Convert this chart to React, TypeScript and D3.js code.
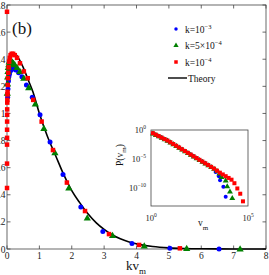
import * as d3 from "d3";

// main panel: P(kv_m) vs kv_m, three k values + theory
const blueMain: [number, number][] = [
  [0.02, 1.12], [0.03, 1.18], [0.045, 1.24], [0.057, 1.27], [0.074, 1.29],
  [0.096, 1.31], [0.125, 1.32], [0.16, 1.33], [0.21, 1.33], [0.27, 1.32],
  [0.36, 1.3], [0.46, 1.27], [0.6, 1.21], [0.78, 1.12], [1.02, 0.99],
  [1.33, 0.79], [1.73, 0.55], [2.28, 0.31], [2.96, 0.13], [3.86, 0.04],
  [5.03, 0.006], [6.55, 0.0005],
];
const greenMain: [number, number][] = [
  [0.01, 1.15], [0.015, 1.22], [0.02, 1.27], [0.03, 1.31], [0.04, 1.34],
  [0.055, 1.36], [0.07, 1.38], [0.09, 1.39], [0.12, 1.39], [0.16, 1.38],
  [0.2, 1.37], [0.24, 1.36], [0.31, 1.34], [0.4, 1.31], [0.52, 1.26],
  [0.67, 1.19], [0.875, 1.07], [1.14, 0.89], [1.48, 0.71], [1.91, 0.45],
  [2.48, 0.23], [3.26, 0.1], [4.24, 0.022], [5.55, 0.004], [7.2, 0.0003],
];
const redMain: [number, number][] = [
  [0.0005, 1.75], [0.001, 0.45], [0.0013, 0.63], [0.0017, 0.77], [0.0022, 0.82],
  [0.0028, 0.88], [0.0037, 0.94], [0.0048, 0.99], [0.0062, 1.03], [0.008, 1.08],
  [0.0105, 1.1], [0.0136, 1.14], [0.0177, 1.16], [0.023, 1.21], [0.03, 1.26],
  [0.039, 1.3], [0.05, 1.34], [0.066, 1.38], [0.085, 1.41], [0.11, 1.43],
  [0.145, 1.44], [0.19, 1.44], [0.24, 1.43], [0.31, 1.41], [0.4, 1.37],
  [0.52, 1.31], [0.64, 1.26], [0.81, 1.1], [1.07, 0.94], [1.42, 0.73],
  [1.85, 0.49], [2.41, 0.28], [3.15, 0.11], [4.08, 0.03], [5.34, 0.005],
];
const theoryKv = [0.15, 0.25, 0.35, 0.5, 0.65, 0.8, 1.0, 1.25, 1.5, 1.75, 2.0, 2.25, 2.5, 2.75, 3.0, 3.25, 3.5, 3.75, 4.0, 4.5, 5.0, 5.5, 6.0, 6.5, 7.0, 7.5, 8.0];
const theoryP = [1.44, 1.44, 1.41, 1.34, 1.25, 1.16, 1.0, 0.83, 0.69, 0.55, 0.43, 0.34, 0.26, 0.195, 0.145, 0.105, 0.075, 0.053, 0.038, 0.018, 0.008, 0.0035, 0.0015, 0.0006, 0.0002, 0.0001, 0.00005];

const xTicks = [0, 1, 2, 3, 4, 5, 6, 7, 8];
const yTicks = [0, 0.2, 0.4, 0.6, 0.8, 1, 1.2, 1.4, 1.6, 1.8];

// inset: P(v_m) log-log
const insetBody: [number, number][] = [
  [1.26, 0.282], [1.78, 0.158], [2.51, 0.0891], [3.55, 0.0501], [5.01, 0.0282],
  [7.08, 0.0158], [10, 7.94e-3], [14.1, 3.98e-3], [20, 2.0e-3], [28.2, 1e-3],
  [39.8, 5.0e-4], [56.2, 2.5e-4], [79.4, 1.26e-4], [112, 6.3e-5], [158, 3.16e-5],
  [224, 1.58e-5], [316, 7.9e-6], [447, 4.0e-6], [631, 2.0e-6], [891, 1e-6],
  [1259, 5.0e-7],
];
const blueTail: [number, number][] = [
  [2138, 6.3e-8], [3162, 1.26e-8], [3631, 2.5e-9], [5370, 2.0e-10], [7079, 4.0e-12],
];
const greenTail: [number, number][] = [
  [1778, 2.5e-7], [2512, 1.12e-7], [3311, 4.0e-8], [4365, 1e-8], [7079, 2.5e-9],
  [8511, 2.5e-10], [11749, 3.16e-11], [15488, 2.5e-12],
];
const redTail: [number, number][] = [
  [1778, 2.5e-7], [2512, 1.12e-7], [3548, 5.0e-8], [5012, 2.5e-8], [7079, 1.26e-8],
  [10000, 6.3e-9], [14125, 3.16e-9], [19953, 7.9e-10], [28184, 1e-10],
  [39811, 1.26e-11], [54954, 6.3e-13],
];
const insetXTicks = [1, 1e5];
const insetXExp = ["0", "5"];
const insetYTicks = [1, 1e-5, 1e-10];
const insetYExp = ["0", "\u22125", "\u221210"];

const BLUE = "#0000ff";
const GREEN = "#008000";
const RED = "#ff0000";
const AXIS = "#444";
const FONT = "'Liberation Serif', 'DejaVu Serif', serif";

const W = 269;
const H = 275;

function Marker({ kind, x, y, s }: { kind: string; x: number; y: number; s: number }) {
  if (kind === "circle") return <circle cx={x} cy={y} r={s / 2} fill={BLUE} />;
  if (kind === "square")
    return <rect x={x - s / 2} y={y - s / 2} width={s} height={s} fill={RED} />;
  const tri = d3.symbol(d3.symbolTriangle, s * s * 0.75)()!;
  return <path d={tri} transform={`translate(${x},${y + 0.5})`} fill={GREEN} />;
}

export default function App() {
  const x = d3.scaleLinear().domain([0, 8]).range([7, 266]);
  const y = d3.scaleLinear().domain([0, 1.8]).range([249, 5]);

  const theory = theoryKv.map((k, i) => [k, theoryP[i]] as [number, number]);
  const line = d3
    .line<[number, number]>()
    .x((d) => x(d[0]))
    .y((d) => y(d[1]))
    .curve(d3.curveMonotoneX);

  const ix = d3.scaleLog().domain([1, 1e5]).range([151, 248]);
  const iy = d3.scaleLog().domain([1e-13, 1]).range([206, 130]);

  const blueInset = [...insetBody, ...blueTail];
  const greenInset = [...insetBody, ...greenTail];
  const redInset = [...insetBody, ...redTail];

  const tl = 3.5;
  const legendY = [29, 45, 62];

  return (
    <svg
      width={W}
      height={H}
      style={{ position: "absolute", left: 0, top: 0, background: "#fff" }}
      fontFamily={FONT}
    >
      {/* main axes frame */}
      <rect x={7} y={5} width={259} height={244} fill="none" stroke={AXIS} strokeWidth={0.8} />
      {xTicks.map((t) => (
        <g key={"x" + t}>
          <line x1={x(t)} x2={x(t)} y1={249} y2={249 - tl} stroke={AXIS} strokeWidth={0.8} />
          <line x1={x(t)} x2={x(t)} y1={5} y2={5 + tl} stroke={AXIS} strokeWidth={0.8} />
          <text x={x(t)} y={258.5} fontSize={9.5} textAnchor="middle" fill="#222">
            {t}
          </text>
        </g>
      ))}
      {yTicks.map((t) => (
        <g key={"y" + t}>
          <line x1={7} x2={7 + tl} y1={y(t)} y2={y(t)} stroke={AXIS} strokeWidth={0.8} />
          <line x1={266} x2={266 - tl} y1={y(t)} y2={y(t)} stroke={AXIS} strokeWidth={0.8} />
          <text x={5.5} y={y(t) + 3.5} fontSize={9.5} textAnchor="end" fill="#222">
            {t}
          </text>
        </g>
      ))}
      <text x={126} y={269.5} fontSize={13} fill="#111">
        kv<tspan fontSize={9} dy={4}>m</tspan>
      </text>
      <text x={12} y={34} fontSize={17} fill="#111">(b)</text>

      {/* theory + data */}
      <path d={line(theory)!} fill="none" stroke="#000" strokeWidth={1.6} />
      {blueMain.map((d, i) => (
        <Marker key={"b" + i} kind="circle" x={x(d[0])} y={y(d[1])} s={5} />
      ))}
      {greenMain.map((d, i) => (
        <Marker key={"g" + i} kind="tri" x={x(d[0])} y={y(d[1])} s={5.5} />
      ))}
      {redMain.map((d, i) => (
        <Marker key={"r" + i} kind="square" x={x(d[0])} y={y(d[1])} s={4.5} />
      ))}

      {/* legend */}
      <Marker kind="circle" x={176} y={legendY[0]} s={3.5} />
      <Marker kind="tri" x={176} y={legendY[1]} s={4} />
      <Marker kind="square" x={176} y={legendY[2]} s={3.5} />
      <line x1={168} x2={187} y1={78} y2={78} stroke="#000" strokeWidth={1.4} />
      <g fontSize={9.5} fill="#111">
        <text x={185} y={legendY[0] + 3.5}>
          k=10<tspan fontSize={6.5} dy={-4}>{"\u22123"}</tspan>
        </text>
        <text x={185} y={legendY[1] + 3.5}>
          k=5×10<tspan fontSize={6.5} dy={-4}>{"\u22124"}</tspan>
        </text>
        <text x={185} y={legendY[2] + 3.5}>
          k=10<tspan fontSize={6.5} dy={-4}>{"\u22124"}</tspan>
        </text>
        <text x={188} y={81.5}>Theory</text>
      </g>

      {/* inset */}
      <rect x={151} y={130} width={97} height={76} fill="#fff" stroke={AXIS} strokeWidth={0.8} />
      {insetXTicks.map((t, i) => (
        <text key={"ix" + t} x={ix(t)} y={221} fontSize={8.5} textAnchor="middle" fill="#222">
          10<tspan fontSize={5.5} dy={-4}>{insetXExp[i]}</tspan>
        </text>
      ))}
      {insetYTicks.map((t, i) => (
        <text key={"iy" + t} x={146} y={iy(t) + 3} fontSize={8.5} textAnchor="end" fill="#222">
          10<tspan fontSize={5.5} dy={-4}>{insetYExp[i]}</tspan>
        </text>
      ))}
      <text x={198} y={226} fontSize={9.5} fill="#111">
        v<tspan fontSize={7} dy={4}>m</tspan>
      </text>
      <text transform="translate(123,166) rotate(-90)" fontSize={9.5} fill="#111">
        P(v<tspan fontSize={7} dy={3}>m</tspan>
        <tspan dy={-3}>)</tspan>
      </text>
      {blueInset.map((d, i) => (
        <Marker key={"ib" + i} kind="circle" x={ix(d[0])} y={iy(d[1])} s={4} />
      ))}
      {greenInset.map((d, i) => (
        <Marker key={"ig" + i} kind="tri" x={ix(d[0])} y={iy(d[1])} s={4.5} />
      ))}
      {redInset.map((d, i) => (
        <Marker key={"ir" + i} kind="square" x={ix(d[0])} y={iy(d[1])} s={4} />
      ))}
    </svg>
  );
}
